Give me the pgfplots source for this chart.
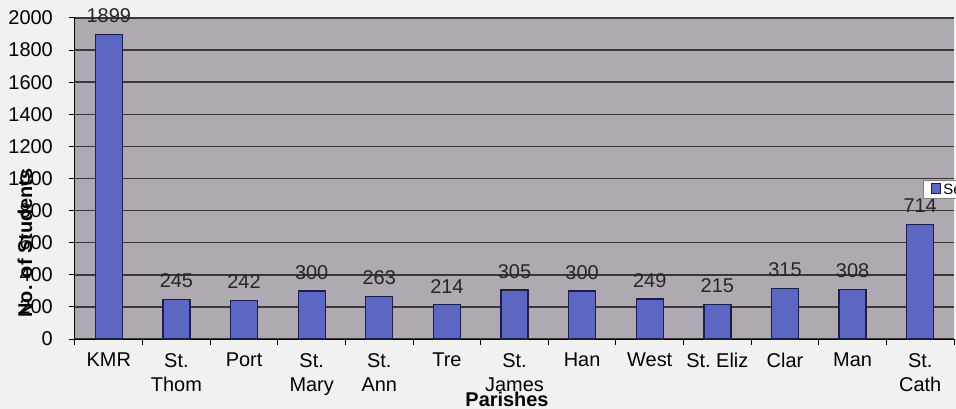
\documentclass[border=0pt]{standalone}
\usepackage{fontspec}
\setmainfont{Liberation Sans}
\usepackage{pgfplots}
\pgfplotsset{compat=1.18}
\definecolor{outerbg}{HTML}{F1F1F1}
\definecolor{plotbg}{HTML}{AFAAB2}
\definecolor{barfill}{HTML}{5B67C2}
\definecolor{baredge}{HTML}{1E1E46}
\definecolor{gridc}{HTML}{38383C}
\begin{document}
\begin{tikzpicture}
\fill[outerbg] (-75bp,-70bp) rectangle (881bp,339bp);
\begin{axis}[
  at={(0,0)}, anchor=south west,
  scale only axis, width=879bp, height=321bp,
  xmin=-0.5, xmax=12.5, ymin=0, ymax=2000,
  axis background/.style={fill=plotbg},
  axis x line*=bottom, axis y line*=left,
  axis line style={draw=black, line width=1bp},
  ybar, bar width=27bp,
  ytick={0,200,...,2000},
  ymajorgrids, grid style={draw=gridc, line width=1.5bp},
  tick align=outside, major tick length=6bp,
  tick style={draw=black, line width=1bp},
  /pgf/number format/assume math mode=true,
  /pgf/number format/set thousands separator={},
  yticklabel style={font=\fontsize{20}{24}\selectfont, anchor=east, inner sep=0pt, xshift=-16bp},
  xtick={-0.5,0.5,...,12.5}, xticklabels={},
  extra x ticks={0,1,2,3,4,5,6,7,8,9,10,11,12},
  extra x tick labels={KMR,St.\\Thom,Port,St.\\Mary,St.\\Ann,Tre,St.\\James,Han,West,St.\ Eliz,Clar,Man,St.\\Cath},
  extra x tick style={major tick length=0pt, grid=none,
    xticklabel style={font=\fontsize{20}{24}\selectfont, align=center, anchor=north, inner sep=0pt, yshift=-14bp}},
  nodes near coords,
  every node near coord/.append style={font=\fontsize{20}{24}\selectfont, anchor=south, inner sep=0pt, yshift=11bp, text=black!85},
  legend style={at={(rel axis cs:0.9647,0.4953)}, anchor=north west,
    font=\fontsize{15}{15}\selectfont, draw=gray, fill=white, inner xsep=8bp, inner ysep=1bp},
  legend image code/.code={\draw[#1] (0bp,-4bp) rectangle (9bp,6bp);},
  clip=false,
]
\addplot[fill=barfill, draw=baredge, line width=1.3bp] coordinates {
  (0,1899) (1,245) (2,242) (3,300) (4,263) (5,214) (6,305)
  (7,300) (8,249) (9,215) (10,315) (11,308) (12,714)};
\addlegendentry{Series1}
\node[rotate=90, font=\bfseries\fontsize{20}{24}\selectfont, anchor=center] at ([xshift=-50bp]rel axis cs:0,0.299) {No. of Students};
\node[font=\bfseries\fontsize{20}{24}\selectfont, anchor=base] at ([yshift=-67bp]rel axis cs:0.4915,0) {Parishes};
\end{axis}
\pgfresetboundingbox
\useasboundingbox (-75bp,-70bp) rectangle (881bp,339bp);
\end{tikzpicture}
\end{document}
